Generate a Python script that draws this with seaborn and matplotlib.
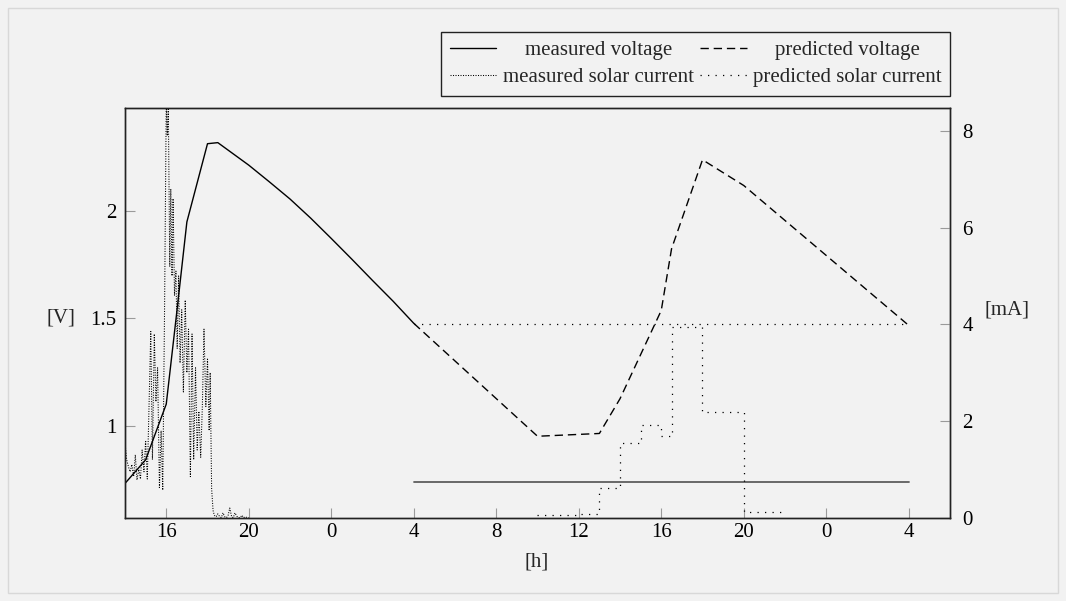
import matplotlib
matplotlib.use("Agg")
import matplotlib.pyplot as plt
from matplotlib.patches import Rectangle
import pandas as pd
import seaborn as sns

# Time axis: hours counted from midnight of the first day (24 = midnight, 48 = next midnight)
meas_v_hours = [14, 15, 16, 16.5, 17, 18, 18.5, 19, 20, 21, 22, 23, 24, 25, 26, 27, 28]
meas_v_volts = [0.73, 0.84, 1.10, 1.52, 1.95, 2.315, 2.32, 2.285, 2.215, 2.137, 2.057,
                1.968, 1.873, 1.776, 1.677, 1.58, 1.477]

pred_v_hours = [28, 34, 37, 38, 40, 40.5, 42, 44, 52]
pred_v_volts = [1.477, 0.95, 0.963, 1.125, 1.537, 1.825, 2.24, 2.12, 1.467]

meas_i_hours = [14.00, 14.08, 14.17, 14.25, 14.33, 14.42, 14.50, 14.58, 14.67, 14.75,
                14.83, 14.92, 15.00, 15.08, 15.17, 15.25, 15.33, 15.42, 15.50, 15.58,
                15.67, 15.75, 15.83, 15.92, 16.00, 16.05, 16.10, 16.17, 16.22, 16.28,
                16.33, 16.40, 16.47, 16.53, 16.60, 16.67, 16.75, 16.83, 16.92, 17.00,
                17.08, 17.17, 17.25, 17.33, 17.42, 17.50, 17.58, 17.67, 17.75, 17.83,
                17.92, 18.00, 18.08, 18.13, 18.20, 18.27, 18.33, 18.42, 18.50, 18.58,
                18.67, 18.75, 18.83, 18.92, 19.00, 19.08, 19.17, 19.25, 19.33, 19.42,
                19.50, 19.58, 19.67, 19.75, 19.83, 19.92, 20.00]
meas_i_ma = [1.55, 1.20, 1.05, 0.95, 1.10, 0.85, 1.30, 0.78, 1.00, 0.80,
             1.40, 0.95, 1.60, 0.80, 2.40, 3.85, 1.20, 3.80, 2.40, 3.10,
             0.60, 1.80, 0.57, 4.40, 8.60, 7.90, 8.50, 5.20, 6.80, 5.00,
             6.60, 4.60, 5.10, 3.50, 5.00, 3.20, 4.30, 2.60, 4.50, 3.00,
             3.90, 0.85, 3.80, 1.20, 3.10, 1.40, 2.20, 1.25, 2.30, 3.90,
             2.30, 3.30, 1.80, 3.00, 0.60, 0.15, 0.05, 0.02, 0.08, 0.03,
             0.00, 0.10, 0.02, 0.00, 0.05, 0.20, 0.02, 0.00, 0.10, 0.03,
             0.00, 0.00, 0.05, 0.00, 0.02, 0.00, 0.00]

pred_i_hours = [34, 35, 36, 37, 38, 39, 40, 40.5, 42, 44, 46]
pred_i_ma = [0.05, 0.05, 0.08, 0.62, 1.54, 1.92, 1.68, 3.95, 2.18, 0.11, 0.11]

ref_hours = [28, 52]
ref_current_ma = [4.0, 4.0]
ref_voltage_v = [0.738, 0.738]

x_tick_hours = [16, 20, 24, 28, 32, 36, 40, 44, 48, 52]
x_tick_labels = ["16", "20", "0", "4", "8", "12", "16", "20", "0", "4"]
v_ticks = [1, 1.5, 2]
v_tick_labels = ["1", "1.5", "2"]
i_ticks = [0, 2, 4, 6, 8]

sns.set_theme(style="white")
BG = "#f2f2f2"
FS = 15
plt.rcParams["font.family"] = ["Liberation Serif", "DejaVu Serif"]
plt.rcParams["font.size"] = FS
plt.rcParams["axes.labelsize"] = FS
plt.rcParams["figure.facecolor"] = BG
plt.rcParams["axes.facecolor"] = BG

W, H = 1066, 601
fig = plt.figure(figsize=(W / 100, H / 100), dpi=100)
ax = fig.add_axes([125 / W, 1 - 517.7 / H, 825 / W, 410 / H])
ax2 = ax.twinx()
ax2.patch.set_visible(False)

df_mv = pd.DataFrame({"h": meas_v_hours, "v": meas_v_volts})
df_pv = pd.DataFrame({"h": pred_v_hours, "v": pred_v_volts})
df_mi = pd.DataFrame({"h": meas_i_hours, "i": meas_i_ma})
df_pi = pd.DataFrame({"h": pred_i_hours, "i": pred_i_ma})
df_rv = pd.DataFrame({"h": ref_hours, "v": ref_voltage_v})
df_ri = pd.DataFrame({"h": ref_hours, "i": ref_current_ma})

sns.lineplot(data=df_rv, x="h", y="v", ax=ax, color="#5e5e5e", lw=1.3,
             estimator=None, legend=False)
sns.lineplot(data=df_mv, x="h", y="v", ax=ax, color="black", lw=1.0,
             estimator=None, legend=False)
sns.lineplot(data=df_pv, x="h", y="v", ax=ax, color="black", lw=1.0,
             linestyle=(0, (6, 3.5)), estimator=None, legend=False)

sns.lineplot(data=df_mi, x="h", y="i", ax=ax2, color="black", lw=0.75,
             linestyle=(0, (1, 1.4)), estimator=None, legend=False)
sns.lineplot(data=df_pi, x="h", y="i", ax=ax2, color="black", lw=0.9,
             linestyle=(0, (1, 5)), drawstyle="steps-post", estimator=None, legend=False)
sns.lineplot(data=df_ri, x="h", y="i", ax=ax2, color="black", lw=0.9,
             linestyle=(0, (1, 5)), estimator=None, legend=False)

ax.set_xlim(14, 54)
ax.set_ylim(0.57, 2.483)
ax2.set_ylim(0, 8.48)

ax.set_xticks(x_tick_hours)
ax.set_xticklabels(x_tick_labels)
ax.set_yticks(v_ticks)
ax.set_yticklabels(v_tick_labels)
ax2.set_yticks(i_ticks)
ax2.set_yticklabels([str(t) for t in i_ticks])

tick_kw = dict(direction="in", length=7.5, width=0.8, color="#9a9a9a",
               labelcolor="black", labelsize=FS)
ax.tick_params(axis="x", bottom=True, top=False, pad=4, **tick_kw)
ax.tick_params(axis="y", left=True, right=False, pad=6, **tick_kw)
ax2.tick_params(axis="y", left=False, right=True, pad=9, **tick_kw)
ax2.tick_params(axis="x", bottom=False, top=False)

for a in (ax, ax2):
    for s in a.spines.values():
        s.set_color("#222222")
        s.set_linewidth(1.0)
        s.set_visible(True)

ax.set_xlabel("[h]", fontsize=FS)
ax.xaxis.set_label_coords((537 - 125) / 825, (517.7 - 562) / 410)
ax.xaxis.label.set_va("center")
ax.set_ylabel("[V]", rotation=0, ha="center", va="center", fontsize=FS)
ax.yaxis.set_label_coords((61 - 125) / 825, (517.7 - 318) / 410)
ax2.set_ylabel("[mA]", rotation=0, ha="center", va="center", fontsize=FS)
ax2.yaxis.set_label_coords((1007 - 125) / 825, (517.7 - 310) / 410)

# Legend: two columns, entries ordered column-wise
lines = ax.get_lines() + ax2.get_lines()
h_mv, h_pv = lines[1], lines[2]
h_mi, h_pi = lines[3], lines[4]
leg = ax.legend([h_mv, h_mi, h_pv, h_pi],
                ["measured voltage", "measured solar current",
                 "predicted voltage", "predicted solar current"],
                ncol=2, loc="upper right", bbox_to_anchor=(950 / W, 1 - 32 / H),
                bbox_transform=fig.transFigure, borderaxespad=0,
                fontsize=FS, handlelength=2.25, handletextpad=0.3,
                columnspacing=0.3, borderpad=0.4, labelspacing=0.37,
                frameon=True, fancybox=False, framealpha=1)
leg.get_frame().set_edgecolor("#222222")
leg.get_frame().set_linewidth(1.0)
leg.get_frame().set_facecolor(BG)

# centre the shorter label of each column within the column's text width
renderer = fig.canvas.get_renderer()
texts = leg.get_texts()
for short, long_ in ((texts[0], texts[1]), (texts[2], texts[3])):
    dw = long_.get_window_extent(renderer).width - short.get_window_extent(renderer).width
    short.set_x(dw / 2)

# thin frame around the figure
fig.add_artist(Rectangle((8 / W, 8 / H), 1 - 16 / W, 1 - 16 / H,
                         transform=fig.transFigure, fill=False,
                         edgecolor="#d8d8d8", lw=1.0))

fig.savefig("out.png", dpi=100, facecolor=BG)
